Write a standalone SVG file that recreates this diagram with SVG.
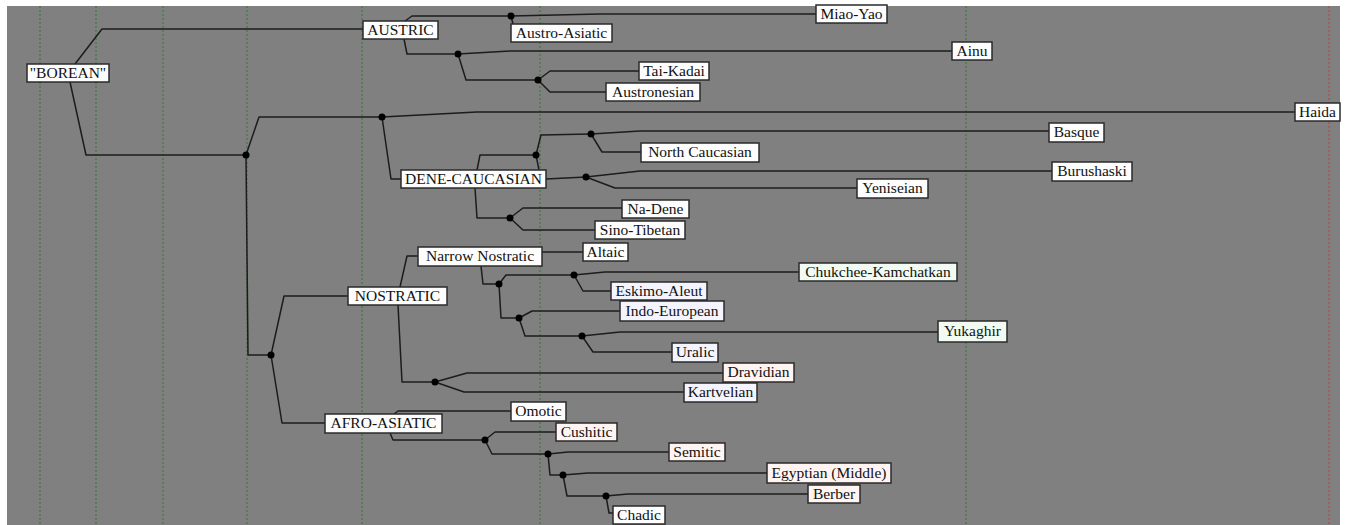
<svg xmlns="http://www.w3.org/2000/svg" width="1347" height="525" viewBox="0 0 1347 525">
<style>
.grid{stroke:#2f7a2f;stroke-width:1;stroke-dasharray:2,2}
.red{stroke:#b84848;stroke-width:1.2;stroke-dasharray:2,2}
.edge{fill:none;stroke:#1c1c1c;stroke-width:1.5;stroke-linejoin:round}
.dot{fill:#000}
.box{fill:#fdfdfd;stroke:#2a2a2a;stroke-width:1.5}
.g{fill:#f2fbf2}.p{fill:#fff4f2}.b{fill:#f4f4fe}
text{font-family:"Liberation Serif","Times New Roman",serif;font-size:15.5px;fill:#111;text-anchor:middle}
</style>
<rect x="0" y="0" width="1347" height="525" fill="#ffffff"/>
<rect x="7" y="6" width="1333" height="519" fill="#808080"/>
<g id="guides">
<line class="grid" x1="40" y1="6" x2="40" y2="525"/>
<line class="grid" x1="96" y1="6" x2="96" y2="525"/>
<line class="grid" x1="163" y1="6" x2="163" y2="525"/>
<line class="grid" x1="247" y1="6" x2="247" y2="525"/>
<line class="grid" x1="362" y1="6" x2="362" y2="525"/>
<line class="grid" x1="540" y1="6" x2="540" y2="525"/>
<line class="grid" x1="966" y1="6" x2="966" y2="525"/>
<line class="red" x1="1329" y1="6" x2="1329" y2="525"/>
</g>
<g id="connectors">
<path class="edge" d="M75,64 L102,29 L363,29"/>
<path class="edge" d="M70,82 L86,155 L246,155"/>
<path class="edge" d="M246,155 L259,117 L382,117"/>
<path class="edge" d="M246,155 L248,355 L271,355"/>
<path class="edge" d="M382,117 L477,112 L1295,112"/>
<path class="edge" d="M382,117 L391,179 L401,179"/>
<path class="edge" d="M405,21 L412,16 L511,16"/>
<path class="edge" d="M511,16 L600,14 L816,14"/>
<path class="edge" d="M511,16 L513,24"/>
<path class="edge" d="M404,39 L407,54 L458,54"/>
<path class="edge" d="M458,54 L510,51 L952,51"/>
<path class="edge" d="M458,54 L466,80 L538,80"/>
<path class="edge" d="M538,80 L550,71 L639,71"/>
<path class="edge" d="M538,80 L550,92 L606,92"/>
<path class="edge" d="M477,170 L480,155 L536,155"/>
<path class="edge" d="M536,155 L541,135 L591,134"/>
<path class="edge" d="M536,155 L539,170"/>
<path class="edge" d="M591,134 L640,131 L1049,131"/>
<path class="edge" d="M591,134 L602,152 L641,152"/>
<path class="edge" d="M546,179 L586,177"/>
<path class="edge" d="M586,177 L640,171 L1052,171"/>
<path class="edge" d="M586,177 L615,188 L857,188"/>
<path class="edge" d="M475,188 L477,218 L510,218"/>
<path class="edge" d="M510,218 L523,208 L622,208"/>
<path class="edge" d="M510,218 L523,230 L595,230"/>
<path class="edge" d="M271,355 L284,296 L348,296"/>
<path class="edge" d="M271,355 L282,423 L325,423"/>
<path class="edge" d="M400,287 L407,256 L418,256"/>
<path class="edge" d="M398,305 L402,382 L435,382"/>
<path class="edge" d="M435,382 L467,373 L723,373"/>
<path class="edge" d="M435,382 L464,392 L684,392"/>
<path class="edge" d="M542,252 L583,252"/>
<path class="edge" d="M481,266 L483,284 L499,284"/>
<path class="edge" d="M499,284 L506,275 L574,275"/>
<path class="edge" d="M574,275 L605,272 L799,272"/>
<path class="edge" d="M574,275 L583,291 L611,291"/>
<path class="edge" d="M499,284 L501,318 L519,318"/>
<path class="edge" d="M519,318 L532,311 L620,311"/>
<path class="edge" d="M519,318 L525,336 L582,336"/>
<path class="edge" d="M582,336 L620,332 L938,332"/>
<path class="edge" d="M582,336 L593,352 L672,352"/>
<path class="edge" d="M394,414 L398,411 L511,411"/>
<path class="edge" d="M390,433 L393,440 L485,440"/>
<path class="edge" d="M485,440 L495,432 L556,432"/>
<path class="edge" d="M485,440 L492,454 L548,454"/>
<path class="edge" d="M548,454 L568,452 L669,452"/>
<path class="edge" d="M548,454 L550,475 L563,475"/>
<path class="edge" d="M563,475 L588,473 L767,473"/>
<path class="edge" d="M563,475 L567,496 L606,496"/>
<path class="edge" d="M606,496 L628,494 L808,494"/>
<path class="edge" d="M606,496 L609,513 L613,513"/>
<circle class="dot" cx="246" cy="155" r="3.5"/>
<circle class="dot" cx="382" cy="117" r="3.5"/>
<circle class="dot" cx="271" cy="355" r="3.5"/>
<circle class="dot" cx="511" cy="16" r="3.5"/>
<circle class="dot" cx="458" cy="54" r="3.5"/>
<circle class="dot" cx="538" cy="80" r="3.5"/>
<circle class="dot" cx="536" cy="155" r="3.5"/>
<circle class="dot" cx="591" cy="134" r="3.5"/>
<circle class="dot" cx="586" cy="177" r="3.5"/>
<circle class="dot" cx="510" cy="218" r="3.5"/>
<circle class="dot" cx="435" cy="382" r="3.5"/>
<circle class="dot" cx="499" cy="284" r="3.5"/>
<circle class="dot" cx="574" cy="275" r="3.5"/>
<circle class="dot" cx="519" cy="318" r="3.5"/>
<circle class="dot" cx="582" cy="336" r="3.5"/>
<circle class="dot" cx="485" cy="440" r="3.5"/>
<circle class="dot" cx="548" cy="454" r="3.5"/>
<circle class="dot" cx="563" cy="475" r="3.5"/>
<circle class="dot" cx="606" cy="496" r="3.5"/>
</g>
<g id="borean"><rect class="box" x="27" y="64" width="82" height="18"/><text x="68" y="78">&quot;BOREAN&quot;</text></g>
<g id="austric"><rect class="box" x="363" y="21" width="75" height="18"/><text x="400.5" y="35">AUSTRIC</text></g>
<g id="miao-yao"><rect class="box" x="816" y="5" width="71" height="18"/><text x="851.5" y="19">Miao-Yao</text></g>
<g id="austro-asiatic"><rect class="box" x="511" y="24" width="101" height="18"/><text x="561.5" y="38">Austro-Asiatic</text></g>
<g id="ainu"><rect class="box" x="952" y="42" width="40" height="18"/><text x="972" y="56">Ainu</text></g>
<g id="tai-kadai"><rect class="box" x="639" y="62" width="70" height="18"/><text x="674" y="76">Tai-Kadai</text></g>
<g id="austronesian"><rect class="box" x="606" y="83" width="94" height="18"/><text x="653" y="97">Austronesian</text></g>
<g id="haida"><rect class="box" x="1295" y="103" width="45" height="18"/><text x="1317.5" y="117">Haida</text></g>
<g id="basque"><rect class="box" x="1049" y="123" width="55" height="19"/><text x="1076.5" y="137">Basque</text></g>
<g id="north-caucasian"><rect class="box" x="641" y="143" width="118" height="19"/><text x="700" y="157">North Caucasian</text></g>
<g id="burushaski"><rect class="box" x="1052" y="162" width="80" height="19"/><text x="1092" y="176">Burushaski</text></g>
<g id="yeniseian"><rect class="box" x="857" y="179" width="71" height="19"/><text x="892.5" y="193">Yeniseian</text></g>
<g id="dene-caucasian"><rect class="box" x="401" y="170" width="145" height="18"/><text x="473.5" y="184">DENE-CAUCASIAN</text></g>
<g id="na-dene"><rect class="box" x="622" y="200" width="67" height="18"/><text x="655.5" y="214">Na-Dene</text></g>
<g id="sino-tibetan"><rect class="box" x="595" y="221" width="90" height="18"/><text x="640" y="235">Sino-Tibetan</text></g>
<g id="altaic"><rect class="box" x="583" y="243" width="45" height="18"/><text x="605.5" y="257">Altaic</text></g>
<g id="narrow-nostratic"><rect class="box" x="418" y="247" width="124" height="19"/><text x="480" y="261">Narrow Nostratic</text></g>
<g id="nostratic"><rect class="box" x="348" y="287" width="99" height="18"/><text x="397.5" y="301">NOSTRATIC</text></g>
<g id="chukchee-kamchatkan"><rect class="box g" x="799" y="263" width="158" height="18"/><text x="878" y="277">Chukchee-Kamchatkan</text></g>
<g id="eskimo-aleut"><rect class="box b" x="611" y="282" width="96" height="18"/><text x="659" y="296">Eskimo-Aleut</text></g>
<g id="indo-european"><rect class="box b" x="620" y="301" width="104" height="20"/><text x="672" y="316">Indo-European</text></g>
<g id="yukaghir"><rect class="box g" x="938" y="321" width="69" height="21"/><text x="972.5" y="336">Yukaghir</text></g>
<g id="uralic"><rect class="box b" x="672" y="343" width="46" height="19"/><text x="695" y="357">Uralic</text></g>
<g id="dravidian"><rect class="box p" x="723" y="363" width="71" height="19"/><text x="758.5" y="377">Dravidian</text></g>
<g id="kartvelian"><rect class="box b" x="684" y="383" width="73" height="19"/><text x="720.5" y="397">Kartvelian</text></g>
<g id="omotic"><rect class="box" x="511" y="402" width="55" height="19"/><text x="538.5" y="416">Omotic</text></g>
<g id="afro-asiatic"><rect class="box" x="325" y="414" width="117" height="19"/><text x="383.5" y="428">AFRO-ASIATIC</text></g>
<g id="cushitic"><rect class="box p" x="556" y="423" width="61" height="18"/><text x="586.5" y="437">Cushitic</text></g>
<g id="semitic"><rect class="box p" x="669" y="443" width="56" height="18"/><text x="697" y="457">Semitic</text></g>
<g id="egyptian"><rect class="box p" x="767" y="463" width="124" height="20"/><text x="829" y="478">Egyptian (Middle)</text></g>
<g id="berber"><rect class="box p" x="808" y="485" width="52" height="18"/><text x="834" y="499">Berber</text></g>
<g id="chadic"><rect class="box" x="613" y="506" width="52" height="18"/><text x="639" y="520">Chadic</text></g>
</svg>
